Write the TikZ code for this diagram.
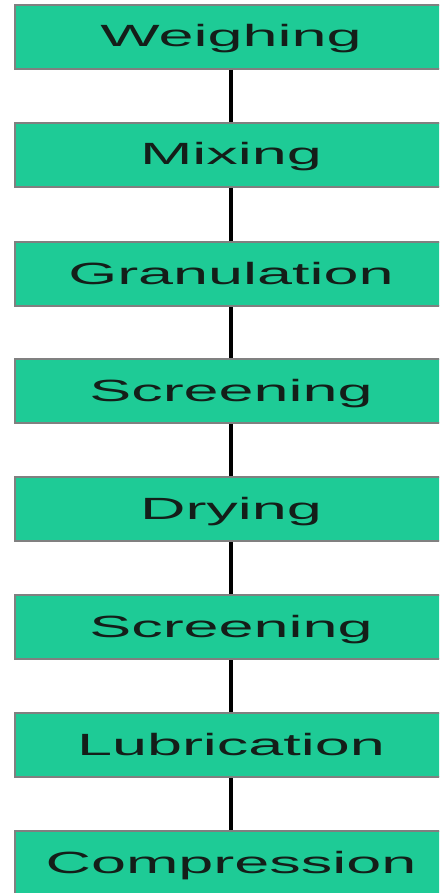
\documentclass[tikz,border=0pt]{standalone}
\usepackage{fontspec}
\setmainfont{Liberation Sans}
\usepackage{graphicx}
\definecolor{boxfill}{RGB}{30,203,150}
\definecolor{boxline}{RGB}{128,128,128}
\definecolor{txt}{RGB}{20,30,25}
\tikzset{
  stepbox/.style={draw=boxline, line width=2pt, fill=boxfill, rectangle,
    minimum width=432pt, minimum height=64pt, inner sep=0pt,
    text height=22pt, text depth=2pt, text=txt,
    font=\fontsize{30.7}{36}\selectfont},
  link/.style={line width=4pt, black}
}
\newcommand{\wide}[1]{\scalebox{2.05}[1]{#1}}
\begin{document}
\begin{tikzpicture}[x=1pt,y=-1pt]
\useasboundingbox (0,0) rectangle (439,893);
\fill[white] (0,0) rectangle (439,893);
\clip (0,0) rectangle (439,893);
\node[stepbox] (b1) at (231,37) {\wide{Weighing}};
\node[stepbox] (b2) at (231,155) {\wide{Mixing}};
\node[stepbox] (b3) at (231,274) {\wide{Granulation}};
\node[stepbox] (b4) at (231,391) {\wide{Screening}};
\node[stepbox] (b5) at (231,509) {\wide{Drying}};
\node[stepbox] (b6) at (231,627) {\wide{Screening}};
\node[stepbox] (b7) at (231,745) {\wide{Lubrication}};
\node[stepbox] (b8) at (231,863) {\wide{Compression}};
\foreach \a/\b in {b1/b2,b2/b3,b3/b4,b4/b5,b5/b6,b6/b7,b7/b8}
  \draw[link] (\a.south) -- (\b.north);
\end{tikzpicture}
\end{document}
